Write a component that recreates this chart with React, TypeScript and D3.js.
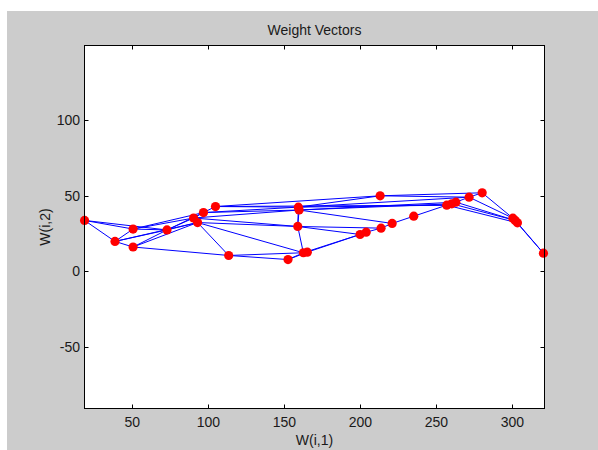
import React from "react";
import * as d3 from "d3";

// Neuron weight vectors: first and second weight components
const wx = [
  18.6, 38.6, 50.5, 50.5, 72.8, 90.3, 92.9, 96.8, 104.7, 113.4,
  152.4, 159.2, 159.7, 158.8, 162.5, 165.1, 213.0, 199.8, 203.8, 213.6,
  220.9, 235.1, 256.8, 260.1, 262.8, 271.5, 280.1, 300.3, 301.8, 303.3,
  320.4,
];
const wy = [
  33.8, 19.9, 28.1, 16.2, 27.5, 35.4, 32.4, 39.0, 43.0, 10.6,
  7.9, 42.6, 40.7, 29.8, 12.4, 12.8, 50.1, 24.5, 26.0, 28.7,
  31.8, 36.6, 43.9, 44.8, 45.9, 49.2, 52.1, 35.3, 33.8, 32.2,
  12.1,
];

// Neighbour links between neurons (index pairs)
const links: [number, number][] = [
  [0, 1], [0, 2], [0, 4], [1, 2], [1, 3], [1, 4], [1, 6], [2, 4], [2, 5], [2, 7],
  [3, 4], [3, 6], [3, 9], [4, 5], [4, 6], [4, 7], [5, 6], [5, 7], [7, 8], [6, 9],
  [6, 13], [6, 14], [5, 12], [7, 11], [8, 11], [7, 12], [8, 16], [5, 13],
  [9, 10], [9, 14], [10, 14], [10, 15], [14, 15], [11, 12], [11, 13], [12, 13],
  [13, 14], [11, 16], [12, 20], [13, 17], [13, 19], [14, 17], [15, 17], [17, 18],
  [18, 19], [19, 20], [20, 21], [21, 22], [11, 22], [12, 23], [11, 25], [16, 25],
  [16, 26], [12, 24], [8, 22],
  [22, 23], [23, 24], [24, 25], [25, 26], [26, 27], [25, 27], [24, 28], [23, 28],
  [22, 29], [27, 28], [28, 29], [29, 30], [27, 30],
];

const xTicks = [50, 100, 150, 200, 250, 300];
const yTicks = [-50, 0, 50, 100];

const W = 598;
const H = 450;
const left = 84.5;
const right = 544.5;
const top = 45.5;
const bottom = 408.5;
const font = "'Liberation Sans', Arial, Helvetica, sans-serif";

export default function App() {
  const x = d3.scaleLinear().domain([18.55, 321.1]).range([left, right]);
  const y = d3.scaleLinear().domain([-90.7, 149.6]).range([bottom, top]);
  const tickLen = 4;

  return (
    <div style={{ position: "absolute", left: 0, top: 0 }}>
      <svg width={W} height={H} style={{ display: "block" }}>
        <rect x={0} y={0} width={W} height={H} fill="#ffffff" />
        <rect x={7} y={11} width={W - 7} height={H - 11} fill="#cccccc" />
        <rect x={left} y={top} width={right - left} height={bottom - top} fill="#ffffff" />

        {/* links */}
        <g stroke="#0000ff" strokeWidth={1} fill="none">
          {links.map(([a, b], i) => (
            <line key={i} x1={x(wx[a])} y1={y(wy[a])} x2={x(wx[b])} y2={y(wy[b])} />
          ))}
        </g>

        {/* neurons */}
        <g fill="#ff0000">
          {wx.map((v, i) => (
            <circle key={i} cx={x(v)} cy={y(wy[i])} r={4.6} />
          ))}
        </g>

        {/* box and ticks */}
        <g stroke="#000000" strokeWidth={1} fill="none">
          <rect x={left} y={top} width={right - left} height={bottom - top} />
          {xTicks.map((t) => {
            const px = Math.round(x(t)) + 0.5;
            return (
              <g key={"x" + t}>
                <line x1={px} x2={px} y1={bottom} y2={bottom - tickLen} />
                <line x1={px} x2={px} y1={top} y2={top + tickLen} />
              </g>
            );
          })}
          {yTicks.map((t) => {
            const py = Math.round(y(t)) + 0.5;
            return (
              <g key={"y" + t}>
                <line x1={left} x2={left + tickLen} y1={py} y2={py} />
                <line x1={right} x2={right - tickLen} y1={py} y2={py} />
              </g>
            );
          })}
        </g>

        <g fontFamily={font} fontSize={14} fill="#1a1a1a">
          {xTicks.map((t) => (
            <text key={"xl" + t} x={x(t)} y={422} textAnchor="middle" dominantBaseline="central">
              {t}
            </text>
          ))}
          {yTicks.map((t) => (
            <text key={"yl" + t} x={80} y={y(t)} textAnchor="end" dominantBaseline="central">
              {t}
            </text>
          ))}
          <text x={(left + right) / 2} y={30} textAnchor="middle" dominantBaseline="central">
            Weight Vectors
          </text>
          <text x={(left + right) / 2} y={440} textAnchor="middle" dominantBaseline="central">
            W(i,1)
          </text>
          <text
            transform={`translate(45,${(top + bottom) / 2}) rotate(-90)`}
            textAnchor="middle"
            dominantBaseline="central"
          >
            W(i,2)
          </text>
        </g>
      </svg>
    </div>
  );
}
